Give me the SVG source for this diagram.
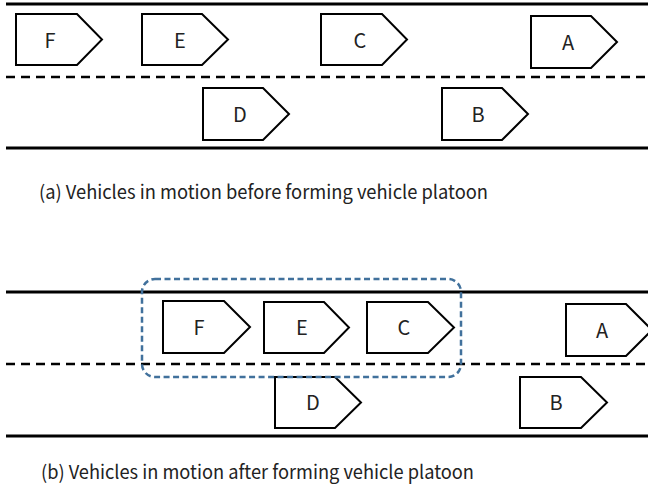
<svg xmlns="http://www.w3.org/2000/svg" width="648" height="491" viewBox="0 0 648 491">
<style>
.road{stroke:#000;stroke-width:3;fill:none}
.lane{stroke:#000;stroke-width:2.5;stroke-dasharray:9 6;fill:none}
.veh{fill:#fff;stroke:#000;stroke-width:2}
.lbl{font-family:"Noto Sans CJK JP","Noto Sans",sans-serif;font-size:20px;fill:#222;text-anchor:middle;dominant-baseline:central}
.cap{font-family:"Noto Sans CJK JP","Noto Sans",sans-serif;font-size:19px;fill:#222}
.platoon{fill:none;stroke:#41719C;stroke-width:2.5;stroke-dasharray:6 3.5}
</style>
<g id="roads">
<line class="road" x1="6" y1="4" x2="648" y2="4"/>
<line class="lane" x1="6" y1="77" x2="648" y2="77"/>
<line class="road" x1="6" y1="148" x2="648" y2="148"/>
<line class="road" x1="6" y1="292" x2="648" y2="292"/>
<line class="lane" x1="6" y1="364" x2="648" y2="364"/>
<line class="road" x1="6" y1="436" x2="648" y2="436"/>
</g>
<g id="a-F"><polygon class="veh" points="16,14 77,14 102,39.5 77,65 16,65"/><text class="lbl" x="50" y="39">F</text></g>
<g id="a-E"><polygon class="veh" points="142,14 202,14 228,39.5 202,65 142,65"/><text class="lbl" x="180" y="39">E</text></g>
<g id="a-C"><polygon class="veh" points="321,14 382,14 407,39.5 382,65 321,65"/><text class="lbl" x="360" y="39">C</text></g>
<g id="a-A"><polygon class="veh" points="531,16 591,16 617,42 591,68 531,68"/><text class="lbl" x="568" y="41">A</text></g>
<g id="a-D"><polygon class="veh" points="203,88 263,88 289,114 263,140 203,140"/><text class="lbl" x="240" y="113">D</text></g>
<g id="a-B"><polygon class="veh" points="442,88 502,88 528,114 502,140 442,140"/><text class="lbl" x="478" y="113">B</text></g>
<text class="cap" x="39" y="199" textLength="449" lengthAdjust="spacingAndGlyphs">(a) Vehicles in motion before forming vehicle platoon</text>
<g id="b-F"><polygon class="veh" points="163,301 224,301 250,327 224,353 163,353"/><text class="lbl" x="199" y="326">F</text></g>
<g id="b-E"><polygon class="veh" points="264,302 324,302 349,327.5 324,353 264,353"/><text class="lbl" x="302" y="326">E</text></g>
<g id="b-C"><polygon class="veh" points="367,302 428,302 454,327.5 428,353 367,353"/><text class="lbl" x="404" y="326">C</text></g>
<g id="b-A"><polygon class="veh" points="566,304 626,304 652,330 626,356 566,356"/><text class="lbl" x="602" y="329">A</text></g>
<g id="b-D"><polygon class="veh" points="275,377 335,377 361,402.5 335,428 275,428"/><text class="lbl" x="313" y="401">D</text></g>
<g id="b-B"><polygon class="veh" points="520,377 581,377 607,402.5 581,428 520,428"/><text class="lbl" x="556" y="401">B</text></g>
<g id="platoon"><rect class="platoon" x="142" y="279" width="319" height="98" rx="13"/></g>
<text class="cap" x="41" y="479" textLength="433" lengthAdjust="spacingAndGlyphs">(b) Vehicles in motion after forming vehicle platoon</text>
</svg>
